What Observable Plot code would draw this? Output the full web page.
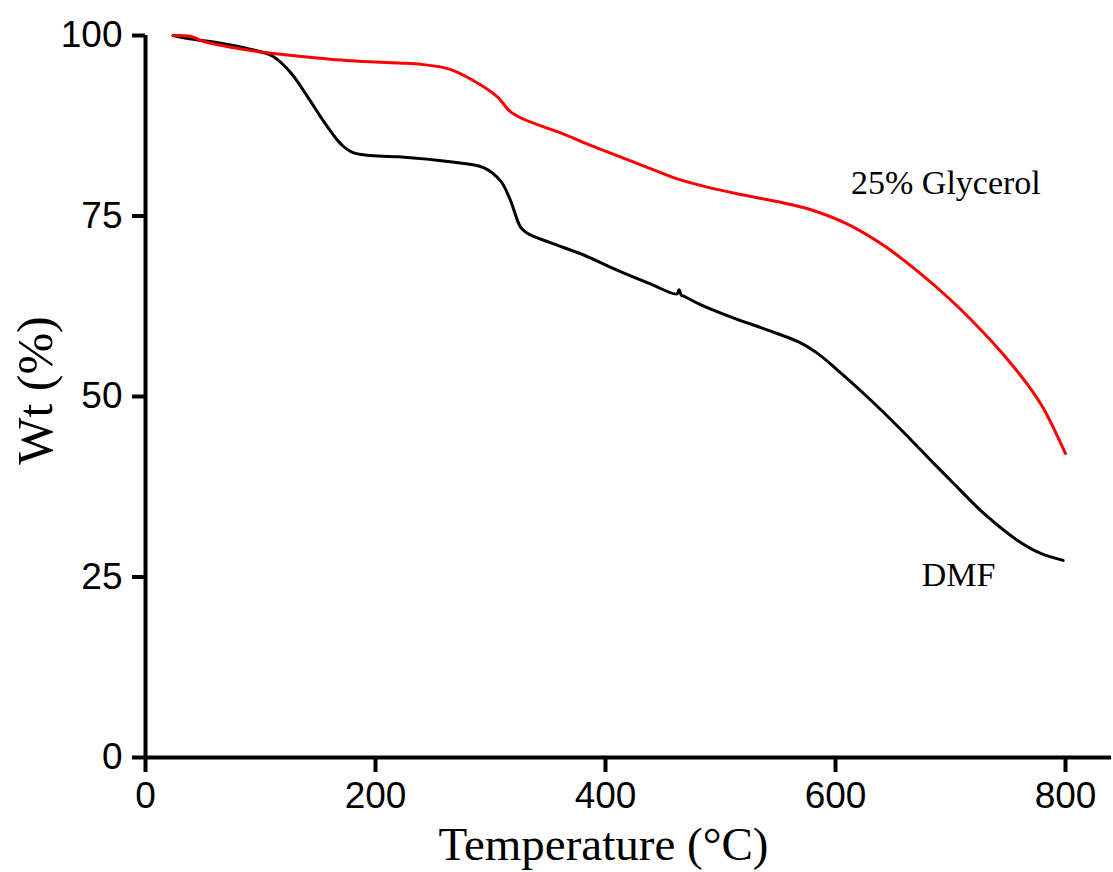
<!DOCTYPE html>
<html>
<head>
<meta charset="utf-8">
<script src="https://cdn.jsdelivr.net/npm/d3@7"></script>
<script src="https://cdn.jsdelivr.net/npm/@observablehq/plot@0.6"></script>
<style>
  html, body { margin: 0; padding: 0; background: #fff; }
</style>
</head>
<body>
<div id="chart"></div>
<script>
// Glycerol (25%) TGA curve: temperature (°C) and weight (%)
const glyTemp = [24, 39, 50, 77, 106, 135, 178, 220, 240, 265, 294, 306, 317, 329, 361, 390, 419, 448, 463, 491, 520, 549, 578, 610, 642, 671, 700, 729, 745, 758, 770, 781, 800];
const glyWt   = [100, 99.9, 99.2, 98.3, 97.6, 97.1, 96.5, 96.2, 96.0, 95.3, 92.9, 91.5, 89.5, 88.4, 86.5, 84.6, 82.8, 81.0, 80.1, 78.9, 77.9, 77.0, 75.9, 73.9, 70.9, 67.4, 63.4, 58.8, 56.0, 53.5, 51.0, 48.3, 42.1];

// DMF TGA curve
const dmfTemp = [24, 40, 63, 91, 111, 126, 141, 152, 163, 171, 180, 193, 220, 265, 294, 309, 317, 326, 332, 352, 381, 410, 439, 462, 464, 466, 468, 483, 511, 541, 570, 585, 600, 628, 657, 685, 700, 729, 758, 778, 798];
const dmfWt   = [100, 99.5, 99.0, 98.1, 97.1, 94.9, 91.5, 88.8, 86.3, 84.8, 83.8, 83.4, 83.2, 82.5, 81.7, 79.8, 77.3, 73.5, 72.6, 71.3, 69.6, 67.5, 65.6, 64.2, 64.8, 64.0, 63.9, 62.7, 60.9, 59.2, 57.4, 55.9, 53.9, 49.9, 45.4, 40.8, 38.4, 33.8, 30.1, 28.3, 27.3];

const xTicks = [0, 200, 400, 600, 800];
const yTicks = [0, 25, 50, 75, 100];

const seriesLabels = [
  {name: "25% Glycerol", temp: 696, wt: 79.6},
  {name: "DMF", temp: 707, wt: 25.3}
];

const gly = glyTemp.map((t, i) => ({temp: t, wt: glyWt[i]}));
const dmf = dmfTemp.map((t, i) => ({temp: t, wt: dmfWt[i]}));

const serif = "'Liberation Serif', 'Times New Roman', serif";

const chart = Plot.plot({
  width: 1113,
  height: 872,
  marginLeft: 145,
  marginRight: 2,
  marginTop: 35,
  marginBottom: 115,
  style: {fontFamily: "'Liberation Sans', Arial, sans-serif", fontSize: "37px", color: "black", background: "white"},
  x: {domain: [0, 840]},
  y: {domain: [0, 100]},
  marks: [
    Plot.axisX({ticks: xTicks, tickSize: 15, tickPadding: 9, strokeWidth: 4, label: null, tickFormat: d => String(d)}),
    Plot.axisY({ticks: yTicks, tickSize: 13, tickPadding: 10, strokeWidth: 4, label: null, tickFormat: d => String(d)}),
    Plot.ruleX([0], {strokeWidth: 4}),
    Plot.ruleY([0], {strokeWidth: 4}),
    Plot.line(dmf, {x: "temp", y: "wt", stroke: "#000", strokeWidth: 3, curve: "catmull-rom"}),
    Plot.line(gly, {x: "temp", y: "wt", stroke: "#ff0000", strokeWidth: 3, curve: "catmull-rom"}),
    Plot.text(seriesLabels, {x: "temp", y: "wt", text: "name", fontFamily: serif, fontSize: 34, fill: "black"}),
    Plot.text(["Temperature (°C)"], {frameAnchor: "bottom", textAnchor: "middle", lineAnchor: "middle", dx: -25, dy: 87, fontFamily: serif, fontSize: 47, fill: "black"}),
    Plot.text(["Wt (%)"], {frameAnchor: "left", textAnchor: "middle", lineAnchor: "middle", rotate: -90, dx: -110, dy: -6, fontFamily: serif, fontSize: 50, fill: "black"})
  ]
});

document.getElementById("chart").appendChild(chart);
</script>
</body>
</html>
